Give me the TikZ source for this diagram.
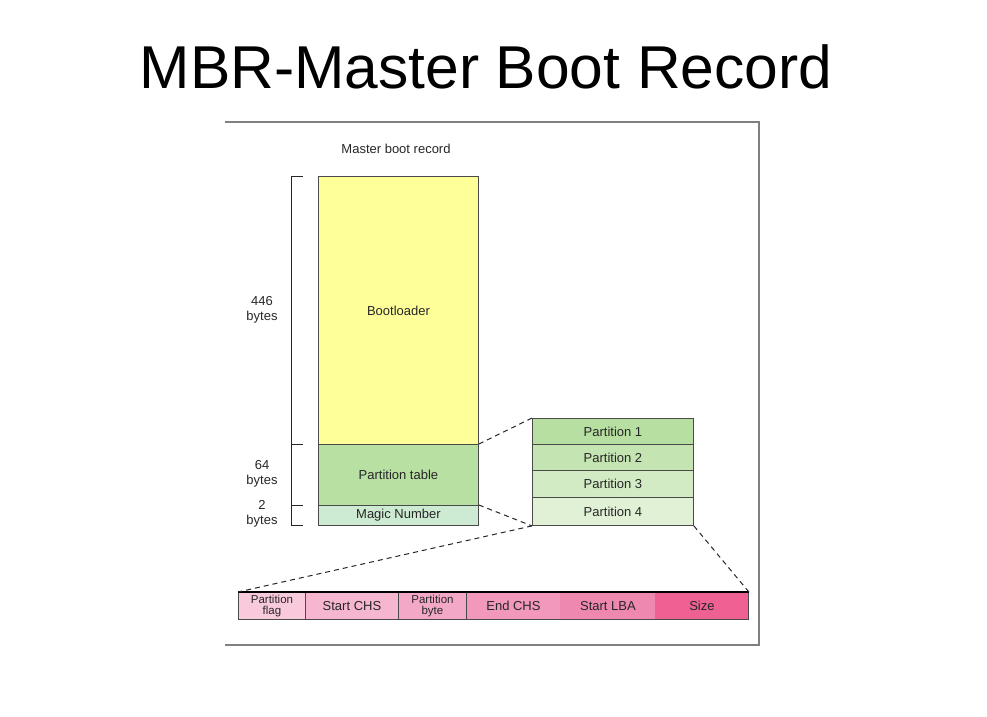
\documentclass[tikz,border=0pt]{standalone}
\usepackage{fontspec}
\setmainfont{Liberation Sans}
\definecolor{bootyellow}{HTML}{FFFF99}
\definecolor{ptgreen}{HTML}{B8E0A3}
\definecolor{mngreen}{HTML}{CDEBD2}
\definecolor{pa}{HTML}{B6DFA1}
\definecolor{pb}{HTML}{C4E5B2}
\definecolor{pc}{HTML}{D3EBC4}
\definecolor{pd}{HTML}{E1F1D6}
\definecolor{fa}{HTML}{F8CADC}
\definecolor{fb}{HTML}{F6B6CF}
\definecolor{fc}{HTML}{F4A8C7}
\definecolor{fd}{HTML}{F298BD}
\definecolor{fe}{HTML}{EF88B1}
\definecolor{ff}{HTML}{EE6192}
\definecolor{framegray}{HTML}{808080}
\definecolor{boxline}{HTML}{4A4A4A}
\tikzset{
  cell/.style={draw=boxline, line width=0.9pt, anchor=north west, inner sep=0pt,
    font=\fontsize{13}{10.5}\selectfont, align=center, text=black!85},
  twoline/.style={font=\fontsize{11.5}{11.5}\selectfont},
  lbl/.style={font=\fontsize{13}{15.5}\selectfont, align=center, text=black!85, inner sep=0pt},
  zoomline/.style={dash pattern=on 5pt off 4pt, line width=1pt, black!85},
  brace/.style={line width=0.8pt, black!85},
}
\begin{document}
\begin{tikzpicture}[x=1pt,y=-1pt]
\useasboundingbox (0,0) rectangle (987,716);
% title
\node[font=\fontsize{60.5}{66}\selectfont, anchor=base, inner sep=0pt] (title) at (486,88) {MBR-Master Boot Record};
% frame
\draw[framegray, line width=1.6pt] (225,122) -- (759,122) -- (759,645) -- (225,645);
% caption
\node[lbl] (cap) at (396,149) {Master boot record};
% main column
\node[cell, fill=bootyellow, minimum width=160pt, minimum height=268pt] (boot) at (318,176) {Bootloader};
\node[cell, fill=ptgreen, minimum width=160pt, minimum height=61pt] (pt) at (318,444) {Partition table};
\node[cell, fill=mngreen, minimum width=160pt, minimum height=20pt] (mn) at (318,505) {Magic Number};
% bracket
\coordinate (b0) at (291,176);
\coordinate (b1) at (291,444);
\coordinate (b2) at (291,505);
\coordinate (b3) at (291,525);
\draw[brace] (b0) -- (b3);
\draw[brace] (b0) -- ++(12,0);
\draw[brace] (b1) -- ++(12,0);
\draw[brace] (b2) -- ++(12,0);
\draw[brace] (b3) -- ++(12,0);
\node[lbl] (l446) at (262,310) {446\\bytes};
\node[lbl] (l64) at (262,474) {64\\bytes};
\node[lbl] (l2) at (262,514) {2\\bytes};
% partitions
\node[cell, fill=pa, minimum width=161pt, minimum height=26pt] (p1) at (532,418) {Partition 1};
\node[cell, fill=pb, minimum width=161pt, minimum height=26pt] (p2) at (532,444) {Partition 2};
\node[cell, fill=pc, minimum width=161pt, minimum height=27pt] (p3) at (532,470) {Partition 3};
\node[cell, fill=pd, minimum width=161pt, minimum height=28pt] (p4) at (532,497) {Partition 4};
% entry bar
\node[cell, twoline, fill=fa, minimum width=67pt, minimum height=27pt] (f1) at (238,592) {Partition\\flag};
\node[cell, fill=fb, minimum width=93pt, minimum height=27pt] (f2) at (305,592) {Start CHS};
\node[cell, twoline, fill=fc, minimum width=68pt, minimum height=27pt] (f3) at (398,592) {Partition\\byte};
\node[cell, fill=fd, minimum width=94pt, minimum height=27pt] (f4) at (466,592) {End CHS};
\node[cell, fill=fe, minimum width=95pt, minimum height=27pt, draw=none] (f5) at (560,592) {Start LBA};
\node[cell, fill=ff, minimum width=93pt, minimum height=27pt, draw=none] (f6) at (655,592) {Size};
\draw[boxline, line width=0.9pt] (f5.north west) -- (f6.north east) -- (f6.south east) -- (f5.south west);
\draw[black, line width=1.4pt] (f1.north west) -- (f6.north east);
% zoom lines
\draw[zoomline] (pt.north east) -- (p1.north west);
\draw[zoomline] (mn.north east) -- (p4.south west);
\draw[zoomline] (p4.south west) -- (f1.north west);
\draw[zoomline] (p4.south east) -- (f6.north east);
\end{tikzpicture}
\end{document}
